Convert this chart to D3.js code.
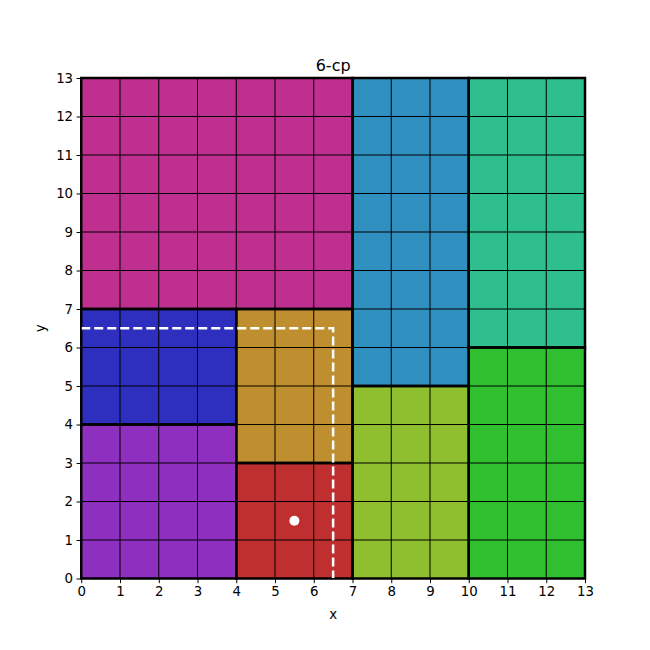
<!DOCTYPE html>
<html><head><meta charset="utf-8">
<script src="https://cdn.jsdelivr.net/npm/d3@7"></script>
<style>body{margin:0;background:#fff}svg{display:block}text{font-family:"DejaVu Sans",sans-serif}</style>
</head><body>
<script>
const rectX0 = [0, 7, 10, 0, 4, 0, 4, 7, 10];
const rectX1 = [7, 10, 13, 4, 7, 4, 7, 10, 13];
const rectY0 = [7, 5, 6, 4, 3, 0, 0, 0, 0];
const rectY1 = [13, 13, 13, 7, 7, 4, 3, 5, 6];
const rectColors = ["#bf2f8f", "#2f8fbf", "#2fbf8f", "#2f2fbf", "#bf8f2f", "#8f2fbf", "#bf2f2f", "#8fbf2f", "#2fbf2f"];
const pathX = [0, 6.5, 6.5];
const pathY = [6.5, 6.5, 0];
const pointX = [5.5];
const pointY = [1.5];
const ticks = d3.range(0, 14);

const W = 650, H = 650;
const L = 81.25, R = 585, T = 78, B = 578.5;
const svg = d3.select("body").append("svg").attr("width", W).attr("height", H);
const x = d3.scaleLinear().domain([0, 13]).range([L, R]);
const y = d3.scaleLinear().domain([0, 13]).range([B, T]);

const g = svg.append("g");
rectColors.forEach((c, i) => {
  g.append("rect").attr("x", x(rectX0[i])).attr("y", y(rectY1[i]))
    .attr("width", x(rectX1[i]) - x(rectX0[i])).attr("height", y(rectY0[i]) - y(rectY1[i]))
    .attr("fill", c);
});
// grid
ticks.forEach(t => {
  g.append("line").attr("x1", x(t)).attr("x2", x(t)).attr("y1", y(0)).attr("y2", y(13)).attr("stroke", "#000").attr("stroke-width", 1);
  g.append("line").attr("y1", y(t)).attr("y2", y(t)).attr("x1", x(0)).attr("x2", x(13)).attr("stroke", "#000").attr("stroke-width", 1);
});
// borders
rectColors.forEach((c, i) => {
  g.append("rect").attr("x", x(rectX0[i])).attr("y", y(rectY1[i]))
    .attr("width", x(rectX1[i]) - x(rectX0[i])).attr("height", y(rectY0[i]) - y(rectY1[i]))
    .attr("fill", "none").attr("stroke", "#000").attr("stroke-width", 2.5);
});
// dashed path
const line = d3.line().x(d => x(d[0])).y(d => y(d[1]));
g.append("path").datum(pathX.map((v, i) => [v, pathY[i]])).attr("d", line)
  .attr("fill", "none").attr("stroke", "#fff").attr("stroke-width", 2.5).attr("stroke-dasharray", "9,4");
g.selectAll("circle.pt").data(pointX).enter().append("circle")
  .attr("cx", (d) => x(d)).attr("cy", (d, i) => y(pointY[i])).attr("r", 5).attr("fill", "#fff");

// axes
const xa = svg.append("g").attr("transform", `translate(0,${B})`)
  .call(d3.axisBottom(x).tickValues(ticks).tickFormat(d3.format("d")).tickSize(4.67).tickPadding(3.5));
const ya = svg.append("g").attr("transform", `translate(${L},0)`)
  .call(d3.axisLeft(y).tickValues(ticks).tickFormat(d3.format("d")).tickSize(4.67).tickPadding(3.5));
[xa, ya].forEach(a => {
  a.select(".domain").remove();
  a.selectAll("text").attr("font-size", 13.33).attr("font-family", "DejaVu Sans").attr("fill", "#000");
  a.selectAll("line").attr("stroke", "#000").attr("stroke-width", 1);
});
svg.append("rect").attr("x", L).attr("y", T).attr("width", R - L).attr("height", B - T)
  .attr("fill", "none").attr("stroke", "#000").attr("stroke-width", 1);

svg.append("text").attr("x", (L + R) / 2).attr("y", T - 7).attr("text-anchor", "middle")
  .attr("font-size", 16).text("6-cp");
svg.append("text").attr("x", (L + R) / 2).attr("y", 619).attr("text-anchor", "middle")
  .attr("font-size", 13.33).text("x");
svg.append("text").attr("transform", `translate(45,${(T + B) / 2}) rotate(-90)`).attr("text-anchor", "middle")
  .attr("font-size", 13.33).text("y");
</script>
</body></html>
